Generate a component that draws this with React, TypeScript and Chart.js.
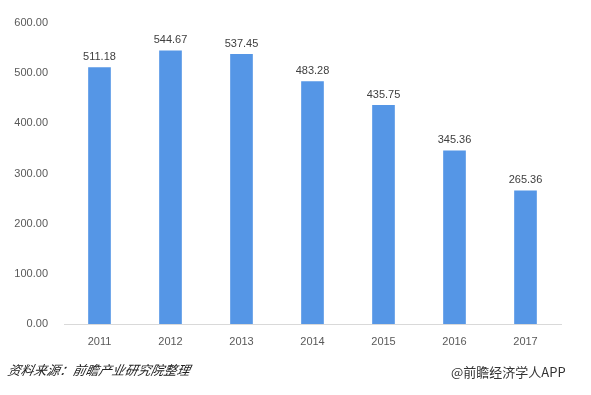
import React, { useEffect, useRef } from "react";
import { Chart, registerables } from "chart.js";

Chart.register(...registerables);

const categories = ["2011", "2012", "2013", "2014", "2015", "2016", "2017"];
const values = [511.18, 544.67, 537.45, 483.28, 435.75, 345.36, 265.36];
const sourceText = "资料来源：前瞻产业研究院整理";
const brandText = "@前瞻经济学人APP";

const labelPlugin = {
  id: "barLabels",
  afterDatasetsDraw(chart: any) {
    const ctx = chart.ctx;
    const meta = chart.getDatasetMeta(0);
    ctx.save();
    ctx.font = "11px 'Liberation Sans', Arial, sans-serif";
    ctx.fillStyle = "#404040";
    ctx.textAlign = "center";
    ctx.textBaseline = "bottom";
    meta.data.forEach((bar: any, i: number) => {
      ctx.fillText(values[i].toFixed(2), bar.x, bar.y - 5);
    });
    ctx.restore();
  },
};

export default function App() {
  const ref = useRef<HTMLCanvasElement | null>(null);
  useEffect(() => {
    if (!ref.current) return;
    const chart = new Chart(ref.current, {
      type: "bar",
      data: {
        labels: categories,
        datasets: [
          {
            data: values,
            backgroundColor: "#5596E6",
            barThickness: 22,
          },
        ],
      },
      options: {
        animation: false,
        responsive: false,
        devicePixelRatio: 1,
        layout: { padding: { left: 8, right: 30, top: 23, bottom: 0 } },
        plugins: { legend: { display: false }, tooltip: { enabled: false } },
        scales: {
          x: {
            grid: { display: false, drawTicks: false },
            border: { color: "#D9D9D9", width: 1 },
            ticks: {
              color: "#595959",
              font: { family: "'Liberation Sans', Arial, sans-serif", size: 11 },
              padding: 11,
            },
            afterFit: (s: any) => {
              s.height = 71;
            },
          },
          y: {
            min: 0,
            max: 600,
            grid: { display: false, drawTicks: false },
            border: { display: false },
            ticks: {
              stepSize: 100,
              color: "#595959",
              padding: 16,
              font: { family: "'Liberation Sans', Arial, sans-serif", size: 11 },
              callback: (v: any) => Number(v).toFixed(2),
            },
            afterFit: (s: any) => {
              s.width = 56;
            },
          },
        },
      },
      plugins: [labelPlugin],
    });
    return () => chart.destroy();
  }, []);

  return (
    <div
      style={{
        position: "fixed",
        left: 0,
        top: 0,
        width: 591,
        height: 395,
        background: "#fff",
        overflow: "hidden",
      }}
    >
      <canvas ref={ref} width={591} height={395} style={{ display: "block" }} />
      <div
        style={{
          position: "absolute",
          left: 8,
          top: 362,
          fontSize: 13,
          fontStyle: "italic",
          fontFamily: "'Noto Sans CJK SC', sans-serif",
          color: "#222",
          lineHeight: "16px",
          transform: "skewX(-12deg)",
        }}
      >
        {sourceText}
      </div>
      <div
        style={{
          position: "absolute",
          left: 451,
          top: 364,
          fontSize: 13,
          fontFamily: "'Noto Sans CJK SC', sans-serif",
          color: "#333",
          lineHeight: "16px",
        }}
      >
        {brandText}
      </div>
    </div>
  );
}
